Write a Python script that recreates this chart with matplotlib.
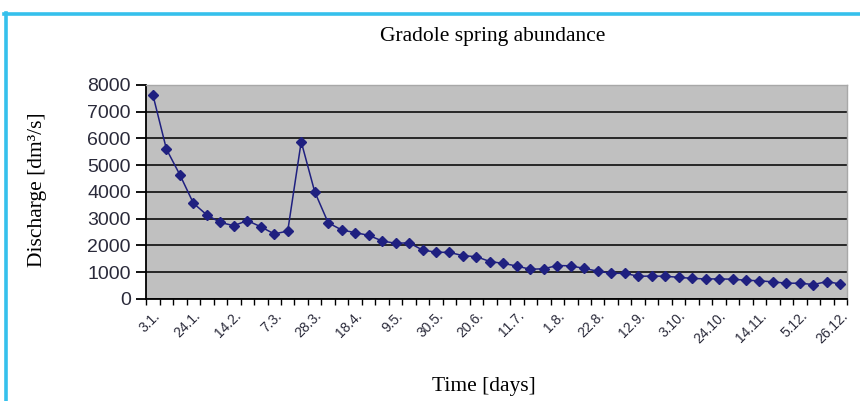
import matplotlib.pyplot as plt
from matplotlib.lines import Line2D
from matplotlib.ticker import FixedLocator

# weekly measurements, 3 Jan - 26 Dec
dates = ['3.1.', '10.1.', '17.1.', '24.1.', '31.1.', '7.2.', '14.2.', '21.2.', '28.2.',
         '7.3.', '14.3.', '21.3.', '28.3.', '4.4.', '11.4.', '18.4.', '25.4.', '2.5.',
         '9.5.', '16.5.', '23.5.', '30.5.', '6.6.', '13.6.', '20.6.', '27.6.', '4.7.',
         '11.7.', '18.7.', '25.7.', '1.8.', '8.8.', '15.8.', '22.8.', '29.8.', '5.9.',
         '12.9.', '19.9.', '26.9.', '3.10.', '10.10.', '17.10.', '24.10.', '31.10.',
         '7.11.', '14.11.', '21.11.', '28.11.', '5.12.', '12.12.', '19.12.', '26.12.']
discharge = [7620, 5600, 4640, 3580, 3140, 2860, 2740, 2930, 2700, 2430, 2540, 5880,
             4010, 2850, 2580, 2480, 2380, 2170, 2080, 2100, 1830, 1750, 1740, 1620,
             1580, 1400, 1330, 1230, 1110, 1130, 1250, 1240, 1140, 1040, 960, 960,
             850, 855, 850, 810, 770, 750, 750, 740, 700, 680, 640, 590, 590, 540,
             650, 560]
label_step = 3

serif = 'Liberation Serif'
sans = 'Liberation Sans'

fig = plt.figure(figsize=(8.6, 4.01), dpi=100)
ax = fig.add_axes([0.170, 0.2544, 0.815, 0.5338])
ax.set_facecolor('#c0c0c0')

x = list(range(len(discharge)))
ax.plot(x, discharge, color='#1f2080', lw=1.1, marker='D', ms=5,
        markerfacecolor='#1f2080', markeredgecolor='#1f2080', zorder=3)

ax.set_xlim(-0.5, len(discharge) - 0.5)
ax.set_ylim(0, 8000)
ax.set_yticks(range(0, 8001, 1000))
ax.grid(axis='y', color='#1a1a1a', lw=1.3)
ax.set_axisbelow(True)

# category labels every third week, tick marks between categories
label_pos = x[::label_step]
ax.set_xticks(label_pos)
ax.set_xticklabels([dates[i] for i in label_pos], rotation=45, ha='right',
                   rotation_mode='anchor', fontsize=10, family=sans, color='#2a2a3a')
ax.xaxis.set_minor_locator(FixedLocator([i - 0.5 for i in range(len(discharge) + 1)]))
ax.tick_params(axis='x', which='major', length=0, pad=7)
ax.tick_params(axis='x', which='minor', length=4, width=1, color='black')
ax.tick_params(axis='y', length=7, width=1.3, pad=4)
for lab in ax.get_yticklabels():
    lab.set_fontfamily(sans)
    lab.set_fontsize(14)
    lab.set_color('#2a2a3a')

for side in ('left', 'bottom'):
    ax.spines[side].set_color('black')
    ax.spines[side].set_linewidth(1.3)
for side in ('top', 'right'):
    ax.spines[side].set_color('#a8a8a8')
    ax.spines[side].set_linewidth(1.0)

fig.text(0.573, 0.908, 'Gradole spring abundance', ha='center', va='center',
         family=serif, fontsize=15.5)
fig.text(0.563, 0.035, 'Time [days]', ha='center', va='center',
         family=serif, fontsize=15.5)
fig.text(0.044, 0.528, 'Discharge [dm³/s]', ha='center', va='center',
         rotation=90, family=serif, fontsize=15.5)

# frame along the top and left edges
fig.add_artist(Line2D([0.007, 0.007], [0, 0.967], transform=fig.transFigure,
                      color='#35c0ec', lw=2.6))
fig.add_artist(Line2D([0.005, 1.0], [0.965, 0.965], transform=fig.transFigure,
                      color='#35c0ec', lw=2.6))

fig.savefig('out.png', dpi=100)
